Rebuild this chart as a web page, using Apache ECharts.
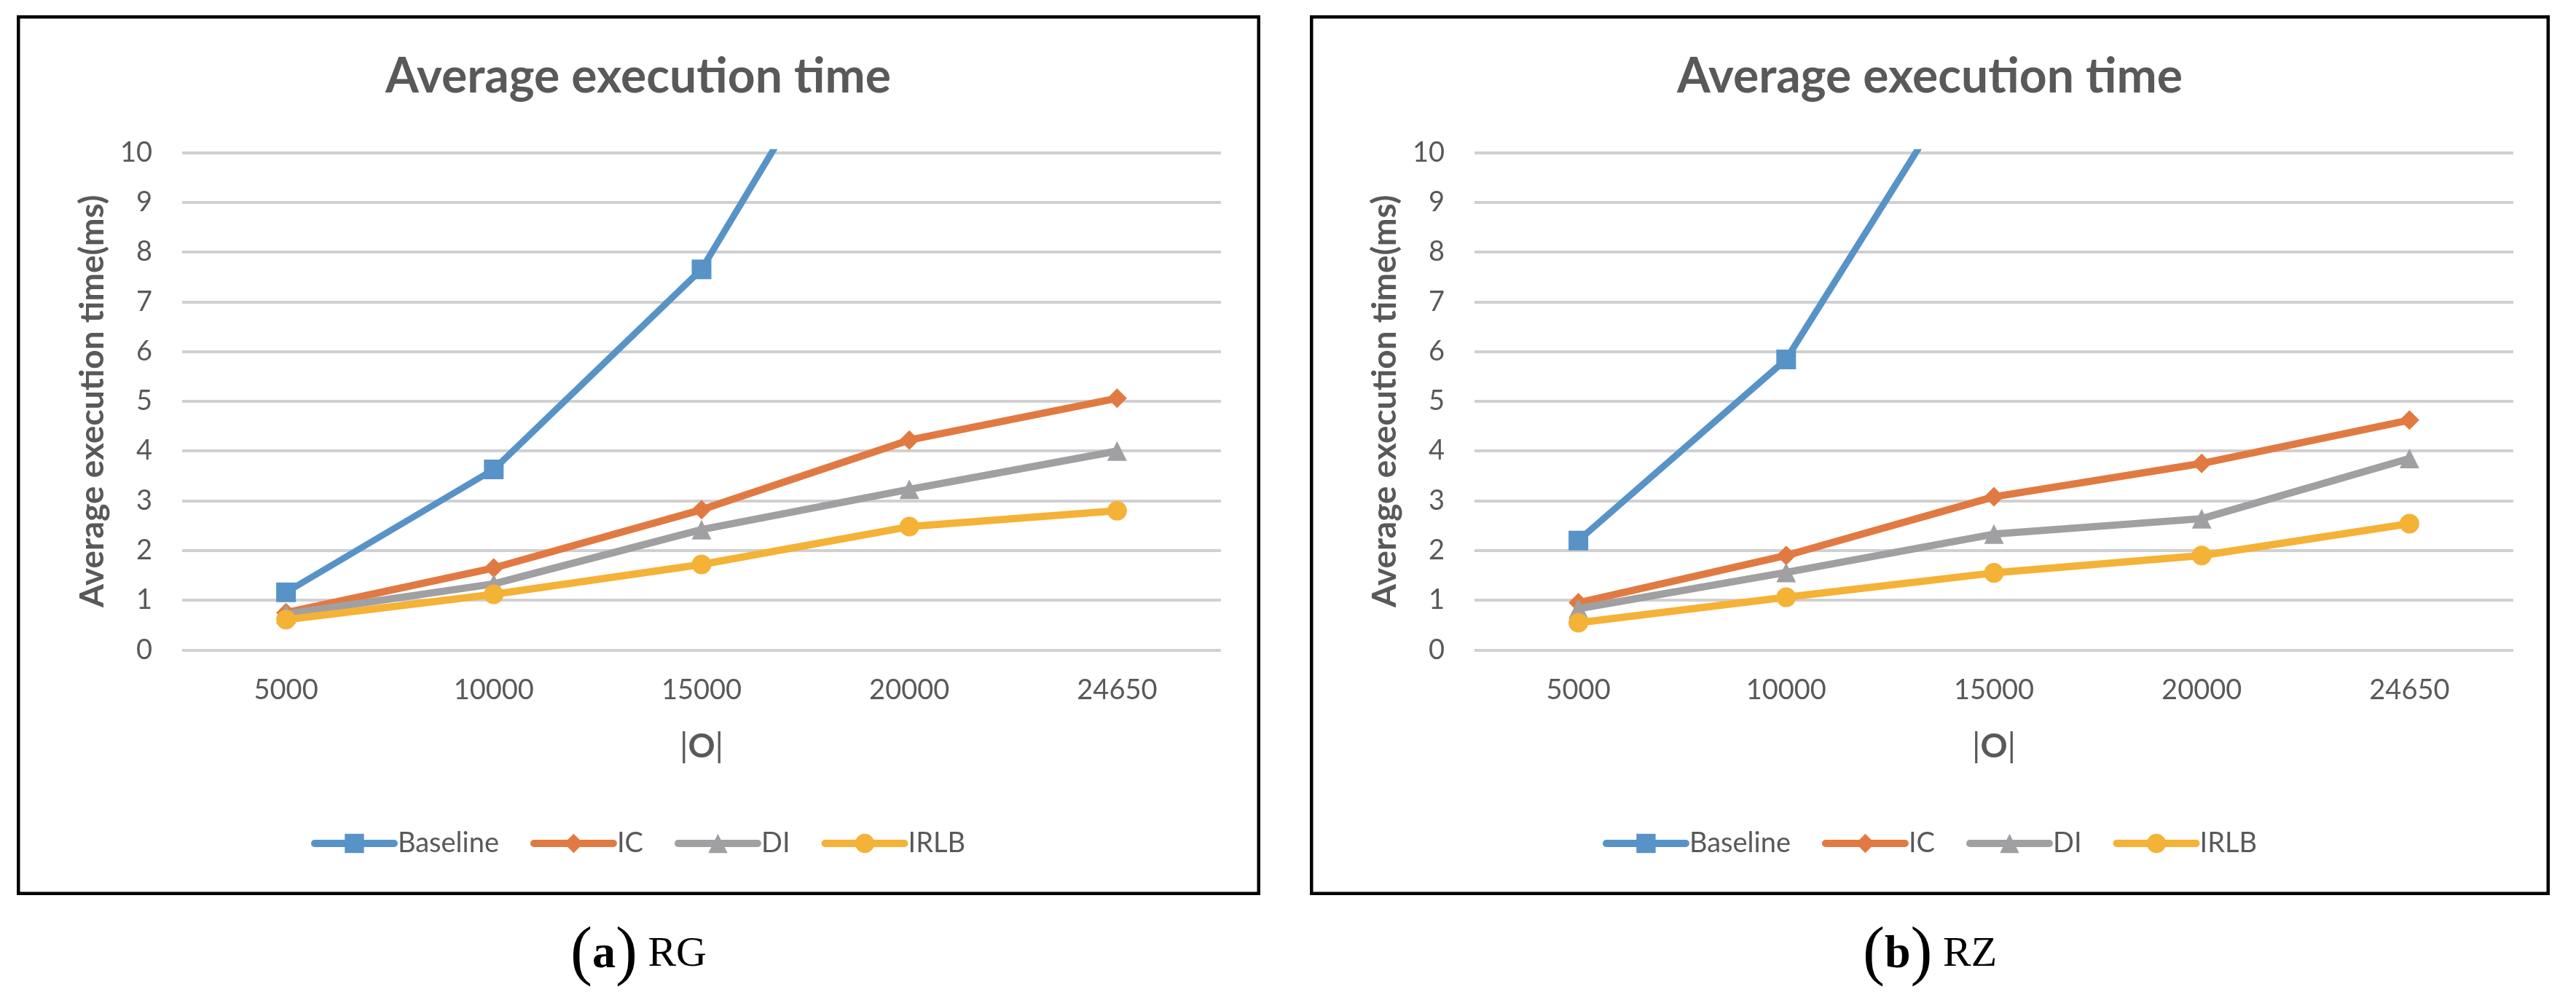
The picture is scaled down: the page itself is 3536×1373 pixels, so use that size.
<!DOCTYPE html>
<html><head><meta charset="utf-8">
<script src="https://cdn.jsdelivr.net/npm/echarts@6/dist/echarts.min.js"></script>
<style>
html,body{margin:0;padding:0;background:#fff;width:3536px;height:1373px;overflow:hidden}
#a,#b{position:absolute;top:0;height:1373px}
#a{left:0;width:1752px}
#b{left:1775px;width:1748px}
</style></head>
<body><div id="a"></div><div id="b"></div>
<script>
// ---- data ----
const categories = ['5000', '10000', '15000', '20000', '24650'];
const seriesNames = ['Baseline', 'IC', 'DI', 'IRLB'];
const rgBaseline = [1.16, 3.63, 7.65, 14.6, 22];
const rgIC = [0.75, 1.65, 2.82, 4.22, 5.06];
const rgDI = [0.72, 1.33, 2.42, 3.23, 4.0];
const rgIRLB = [0.61, 1.12, 1.72, 2.48, 2.80];
const rzBaseline = [2.2, 5.84, 12.5, 19, 26];
const rzIC = [0.95, 1.9, 3.08, 3.75, 4.62];
const rzDI = [0.83, 1.56, 2.33, 2.64, 3.85];
const rzIRLB = [0.55, 1.06, 1.55, 1.9, 2.54];
const yMin = 0, yMax = 10, yStep = 1;
const titleText = 'Average execution time';
const yName = 'Average execution time(ms)';
const xName = '|O|';

// ---- style ----
const colors = ['#5893C7', '#E17A42', '#A0A0A3', '#F4B236'];
const symbols = ['rect', 'diamond', 'triangle', 'circle'];
const FONT = 'Lato, "Liberation Sans", sans-serif';
const SERIF = '"Liberation Serif", "DejaVu Serif", serif';
const TXT = '#595959';

function makeOption(values, letter, name, boxX, boxW, gridLeft) {
  const cx = boxX + boxW / 2;
  return {
    animation: false,
    title: {
      text: titleText, left: 'center', top: 73, padding: 0,
      textStyle: { fontSize: 66, fontWeight: 'bold', color: TXT, fontFamily: FONT }
    },
    legend: {
      data: seriesNames, left: 'center', top: 1139,
      itemWidth: 109, itemHeight: 33, itemGap: 43, padding: 0,
      lineStyle: { width: 10, cap: 'round' },
      textStyle: { fontSize: 38, color: TXT, fontFamily: FONT }
    },
    grid: { left: gridLeft, width: 1426, top: 209.3, height: 683.2, containLabel: false },
    xAxis: {
      type: 'category', data: categories, boundaryGap: true,
      axisLine: { show: false }, axisTick: { show: false },
      axisLabel: { fontSize: 38, color: TXT, fontFamily: FONT, margin: 36 },
      name: xName, nameLocation: 'middle', nameGap: 110,
      nameTextStyle: {
        fontSize: 46, color: TXT, fontFamily: FONT,
        rich: { n: { fontSize: 46, color: TXT, fontFamily: FONT }, b: { fontSize: 46, fontWeight: 'bold', color: TXT, fontFamily: FONT } }
      }
    },
    yAxis: {
      type: 'value', min: yMin, max: yMax, interval: yStep,
      axisLine: { show: false }, axisTick: { show: false },
      axisLabel: { fontSize: 38, color: TXT, fontFamily: FONT, margin: 41 },
      splitLine: { lineStyle: { color: '#D0D0D2', width: 4 } },
      name: yName, nameLocation: 'middle', nameRotate: 90, nameGap: 100,
      nameTextStyle: { fontSize: 46, fontWeight: 'bold', color: TXT, fontFamily: FONT }
    },
    series: seriesNames.map((s, i) => ({
      type: 'line', name: s, data: values[i], clip: true,
      symbol: symbols[i], symbolSize: 27, showAllSymbol: true,
      lineStyle: { width: i === 0 ? 9 : 10, color: colors[i], cap: 'round', join: 'round' },
      itemStyle: { color: colors[i] }, z: 2 + i
    })),
    graphic: [
      { type: 'rect', silent: true,
        shape: { x: boxX + 2.25, y: 23.25, width: boxW - 4.5, height: 1203.5 },
        style: { fill: 'transparent', stroke: '#000', lineWidth: 4.5 } },
      { type: 'text', silent: true, x: cx, y: 1311,
        style: {
          text: '{p|(}{b|' + letter + '}{p|)}{n| ' + name + '}',
          align: 'center', verticalAlign: 'middle', fill: '#000',
          rich: {
            p: { fontSize: 90, fontFamily: SERIF, fill: '#000' },
            b: { fontSize: 64, fontWeight: 'bold', fontFamily: SERIF, fill: '#000' },
            n: { fontSize: 58, fontFamily: SERIF, fill: '#000' }
          }
        } }
    ]
  };
}

const chartA = echarts.init(document.getElementById('a'));
chartA.setOption(makeOption([rgBaseline, rgIC, rgDI, rgIRLB], 'a', 'RG', 23, 1707, 250));
const chartB = echarts.init(document.getElementById('b'));
chartB.setOption(makeOption([rzBaseline, rzIC, rzDI, rzIRLB], 'b', 'RZ', 23, 1702, 249));
// x axis name uses rich pieces for thin bars and bold O
[chartA, chartB].forEach(c => c.setOption({ xAxis: { name: '{n||}{b|O}{n||}' } }));
</script>
</body></html>
